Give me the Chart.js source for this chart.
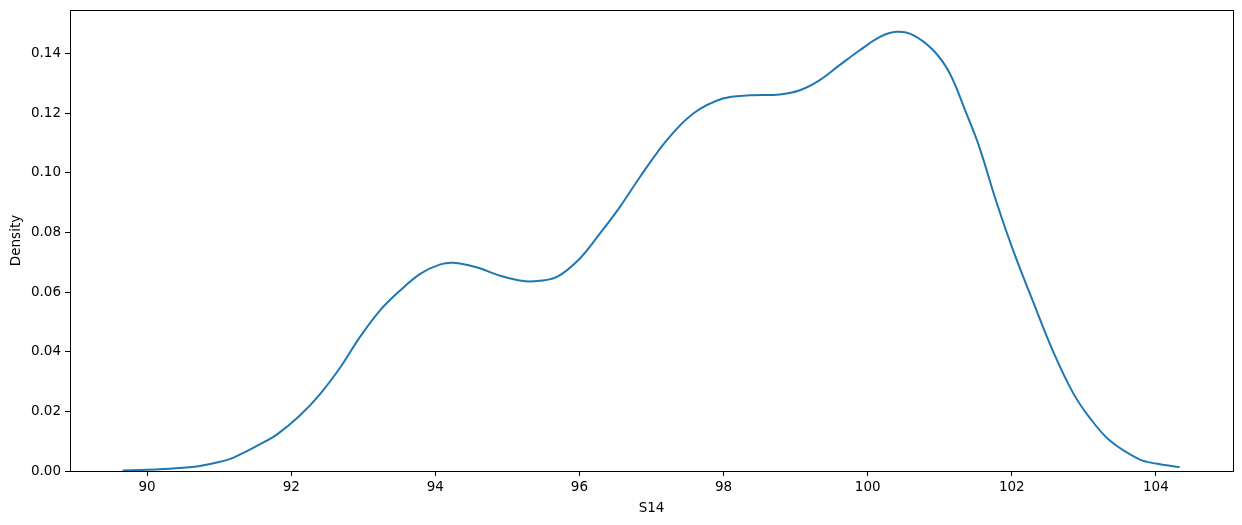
<!DOCTYPE html>
<html>
<head>
<meta charset="utf-8">
<script src="https://cdn.jsdelivr.net/npm/chart.js@4"></script>
<style>
  html, body { margin: 0; padding: 0; background: #fff; }
  #wrap { width: 1242px; height: 525px; }
</style>
</head>
<body>
<div id="wrap"><canvas id="c" width="1242" height="525"></canvas></div>
<script>
// KDE curve of S14
const s14 = [89.66, 90.0, 90.4, 90.73, 91.0, 91.2, 91.57, 91.8, 92.12, 92.4, 92.68, 92.95,
  93.23, 93.51, 93.79, 94.06, 94.25, 94.57, 94.9, 95.15, 95.36, 95.68, 96.0, 96.28,
  96.56, 96.84, 97.21, 97.58, 97.99, 98.36, 98.78, 99.06, 99.33, 99.61, 99.89, 100.17,
  100.4, 100.63, 100.91, 101.14, 101.37, 101.55, 101.78, 102.02, 102.29, 102.57, 102.85,
  103.08, 103.36, 103.77, 104.0, 104.33]
const density = [0.0002, 0.0004, 0.0009, 0.0017, 0.003, 0.0045, 0.009, 0.0122, 0.0186, 0.0258, 0.0347, 0.0448,
  0.0538, 0.0605, 0.0661, 0.0692, 0.0698, 0.0683, 0.0655, 0.064, 0.0636, 0.065, 0.0711, 0.0795,
  0.0885, 0.0986, 0.1109, 0.1199, 0.1249, 0.126, 0.1263, 0.1277, 0.131, 0.1361, 0.1411, 0.1456,
  0.1473, 0.1462, 0.1411, 0.1333, 0.1199, 0.1086, 0.0907, 0.0739, 0.0571, 0.0403, 0.0262,
  0.0179, 0.0102, 0.0039, 0.0025, 0.0013]

const xTicks = [90, 92, 94, 96, 98, 100, 102, 104]
const yTicks = [0, 0.02, 0.04, 0.06, 0.08, 0.10, 0.12, 0.14]

const font = { family: 'DejaVu Sans', size: 13.5 }

// axes box (top/right spines)
const frame = {
  id: 'frame',
  afterDraw(chart) {
    const { ctx, chartArea: a } = chart
    ctx.save()
    ctx.strokeStyle = '#000'
    ctx.lineWidth = 1
    ctx.strokeRect(Math.round(a.left) + 0.5, Math.round(a.top) + 0.5,
      Math.round(a.right - a.left), Math.round(a.bottom - a.top))
    ctx.restore()
  }
}

new Chart(document.getElementById('c'), {
  type: 'line',
  data: {
    datasets: [{
      data: s14.map((x, i) => ({ x, y: density[i] })),
      borderColor: '#1f77b4',
      borderWidth: 2,
      pointRadius: 0,
      fill: false,
      tension: 0.35
    }]
  },
  options: {
    responsive: false,
    animation: false,
    layout: { padding: { top: 10, right: 9, left: 0, bottom: 0 } },
    plugins: { legend: { display: false }, tooltip: { enabled: false } },
    scales: {
      x: {
        type: 'linear',
        min: 88.93,
        max: 105.07,
        afterBuildTicks: s => { s.ticks = xTicks.map(v => ({ value: v })) },
        afterFit: s => { s.height = 54; s.paddingLeft = 0; s.paddingRight = 0 },
        grid: { drawOnChartArea: false, drawTicks: true, tickLength: 5, color: '#000' },
        border: { display: true, color: '#000' },
        ticks: { color: '#000', font, padding: 3, maxRotation: 0, callback: v => String(v) },
        title: { display: true, text: 'S14', color: '#000', font, padding: { top: 2, bottom: 8 } }
      },
      y: {
        min: 0,
        max: 0.1546,
        afterBuildTicks: s => { s.ticks = yTicks.map(v => ({ value: v })) },
        afterFit: s => { s.width = 70; s.paddingTop = 0; s.paddingBottom = 0 },
        grid: { drawOnChartArea: false, drawTicks: true, tickLength: 5, color: '#000' },
        border: { display: true, color: '#000' },
        ticks: { color: '#000', font, padding: 4, callback: v => v.toFixed(2) },
        title: { display: true, text: 'Density', color: '#000', font, padding: { top: 8, bottom: 4 } }
      }
    }
  },
  plugins: [frame]
})
</script>
</body>
</html>
